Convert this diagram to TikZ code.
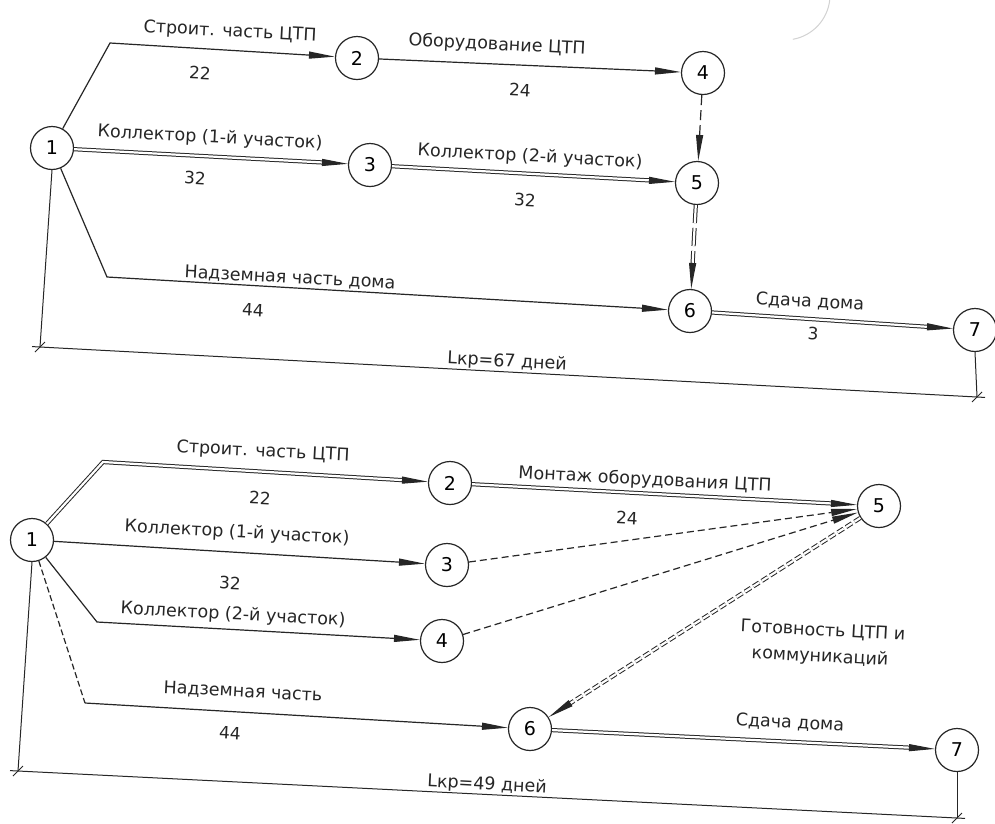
\documentclass[tikz,border=0pt]{standalone}
\usepackage{fontspec}
\setmainfont{DejaVu Sans}
\usetikzlibrary{arrows.meta}
\begin{document}
\begin{tikzpicture}[x=1pt,y=-1pt,
  ink/.style={draw=black!85, line width=1.2pt},
  ev/.style={circle, ink, minimum size=43pt, inner sep=0pt, font=\fontsize{19}{19}\selectfont},
  act/.style={ink, -{Triangle[length=26pt,width=7pt]}},
  crit/.style={act, double, double distance=2.2pt, line width=1pt},
  dum/.style={act, dash pattern=on 7pt off 4pt},
  lab/.style={font=\fontsize{17.5}{20}\selectfont, rotate=-3, inner sep=0pt, text=black!85},
  num/.style={font=\fontsize{17}{17}\selectfont, rotate=-3, inner sep=0pt, text=black!85},
  dim/.style={ink, line width=1pt}
]
\useasboundingbox (0,0) rectangle (995,823);
\fill[white] (0,0) rectangle (995,823);

% faint arc (scan)
\draw[gray!35, line width=1pt] (785,-5) ++(6:45) arc[start angle=6, end angle=80, radius=45];

% ---------------- top network ----------------
\node[ev] (a1) at (52,148) {1};
\node[ev] (a2) at (357,58) {2};
\node[ev] (a3) at (370,165) {3};
\node[ev] (a4) at (703,73) {4};
\node[ev] (a5) at (697,183) {5};
\node[ev] (a6) at (690,311) {6};
\node[ev] (a7) at (975,330) {7};
\coordinate (a12) at (110,43);
\coordinate (a16) at (107,277);

\draw[act] (a1) -- (a12) -- (a2);
\draw[act] (a2) -- (a4);
\draw[crit] (a1) -- (a3);
\draw[crit] (a3) -- (a5);
\draw[dum, dash pattern=on 10pt off 5pt] (a4) -- (a5);
\draw[crit, dash pattern=on 18pt off 5pt] (a5) -- (a6);
\draw[act] (a1) -- (a16) -- (a6);
\draw[crit] (a6) -- (a7);

\node[lab] (ta12) at (230,32) {Строит. часть ЦТП};
\node[num] (da12) at (200,73) {22};
\node[lab] (ta24) at (497,45) {Оборудование ЦТП};
\node[num] (da24) at (520,90) {24};
\node[lab] (ta13) at (210,138) {Коллектор (1-й участок)};
\node[num] (da13) at (195,178) {32};
\node[lab] (ta35) at (530,157) {Коллектор (2-й участок)};
\node[num] (da35) at (525,200) {32};
\node[lab] (ta16) at (290,278) {Надземная часть дома};
\node[num] (da16) at (253,310) {44};
\node[lab] (ta67) at (810,302) {Сдача дома};
\node[num] (da67) at (813,334) {3};

\coordinate (dl1) at (40,347);
\coordinate (dr1) at (977,397);
\draw[dim] (a1.south) -- (dl1);
\draw[dim] (a7.south) -- (dr1);
\draw[dim, shorten <=-8pt, shorten >=-8pt] (dl1) -- (dr1);
\draw[dim] (dl1) ++(-5,5) -- ++(10,-10);
\draw[dim] (dr1) ++(-5,5) -- ++(10,-10);
\node[lab] (ka) at (507,362) {Lкр=67 дней};

% ---------------- bottom network ----------------
\node[ev] (b1) at (32,540) {1};
\node[ev] (b2) at (450,483) {2};
\node[ev] (b3) at (447,565) {3};
\node[ev] (b4) at (442,641) {4};
\node[ev] (b5) at (879,506) {5};
\node[ev] (b6) at (530,729) {6};
\node[ev] (b7) at (957,750) {7};
\coordinate (b12) at (103,462);
\coordinate (b14) at (97,622);
\coordinate (b16) at (85,703);

\draw[crit] (b1) -- (b12) -- (b2);
\draw[act] (b1) -- (b3);
\draw[act] (b1) -- (b14) -- (b4);
\draw[ink, dash pattern=on 6pt off 3pt] (b1) -- (b16);
\draw[act] (b16) -- (b6);
\draw[crit] (b2) -- (b5);
\draw[dum] (b3) -- (b5);
\draw[dum] (b4) -- (b5);
\draw[crit, dash pattern=on 7pt off 3pt] (b5) -- (b6);
\draw[crit] (b6) -- (b7);

\node[lab] (tb12) at (263,452) {Строит. часть ЦТП};
\node[num] (db12) at (260,498) {22};
\node[lab] (tb13) at (237,533) {Коллектор (1-й участок)};
\node[num] (db13) at (230,583) {32};
\node[lab] (tb14) at (233,615) {Коллектор (2-й участок)};
\node[lab] (tb16) at (243,692) {Надземная часть};
\node[num] (db16) at (230,733) {44};
\node[lab] (tb25) at (645,480) {Монтаж оборудования ЦТП};
\node[num] (db25) at (627,518) {24};
\node[lab] (tb56a) at (823,631) {Готовность ЦТП и};
\node[lab] (tb56b) at (820,657) {коммуникаций};
\node[lab] (tb67) at (790,723) {Сдача дома};

\coordinate (dl2) at (18,771);
\coordinate (dr2) at (957,818);
\draw[dim] (b1.south) -- (dl2);
\draw[dim] (b7.south) -- (dr2);
\draw[dim, shorten <=-8pt, shorten >=-8pt] (dl2) -- (dr2);
\draw[dim] (dl2) ++(-5,5) -- ++(10,-10);
\draw[dim] (dr2) ++(-5,5) -- ++(10,-10);
\node[lab] (kb) at (487,785) {Lкр=49 дней};
\end{tikzpicture}
\end{document}
